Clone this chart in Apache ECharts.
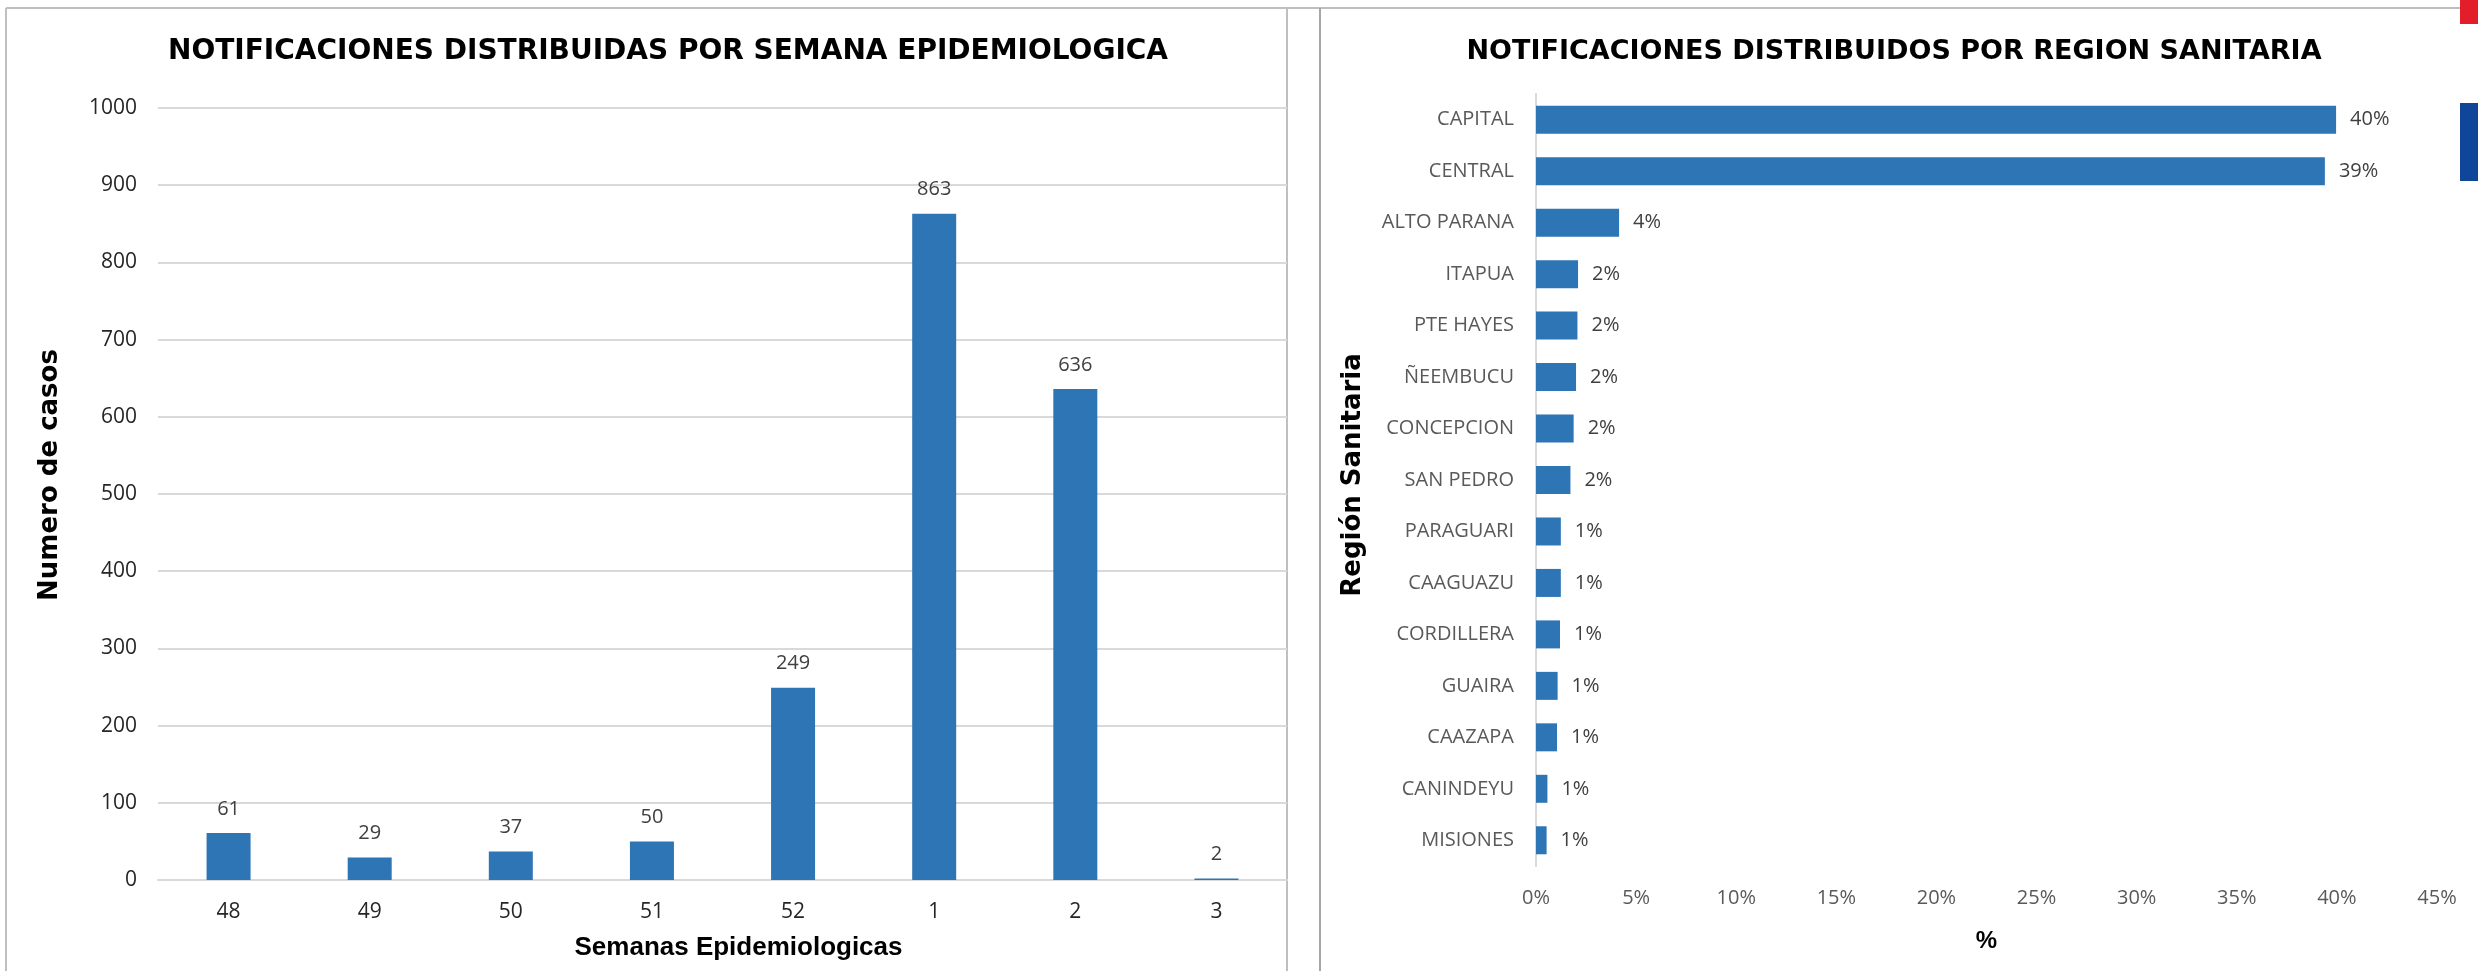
<!DOCTYPE html>
<html>
<head>
<meta charset="utf-8">
<script src="https://cdn.jsdelivr.net/npm/echarts@6/dist/echarts.min.js"></script>
<style>
html,body{margin:0;padding:0;background:#fff;}
#c{width:2478px;height:971px;}
</style>
</head>
<body>
<div id="c"></div>
<script>
// Left chart data
var weeks = ['48', '49', '50', '51', '52', '1', '2', '3'];
var weekCases = [61, 29, 37, 50, 249, 863, 636, 2];
var caseTicks = {min: 0, max: 1000, interval: 100};

// Right chart data
var regions = ['CAPITAL', 'CENTRAL', 'ALTO PARANA', 'ITAPUA', 'PTE HAYES', 'ÑEEMBUCU', 'CONCEPCION',
  'SAN PEDRO', 'PARAGUARI', 'CAAGUAZU', 'CORDILLERA', 'GUAIRA', 'CAAZAPA', 'CANINDEYU', 'MISIONES'];
var regionPct = [39.96, 39.4, 4.15, 2.1, 2.07, 2.0, 1.88, 1.72, 1.24, 1.24, 1.2, 1.08, 1.05, 0.57, 0.53];
var pctTicks = {min: 0, max: 45, interval: 5};

var BAR = '#2E75B6';
var tickFont = 'Open Sans';
var titleFont = 'DejaVu Sans';

var chart = echarts.init(document.getElementById('c'), null, {renderer: 'canvas'});
chart.setOption({
  animation: false,
  backgroundColor: '#ffffff',
  title: [
    {text: 'NOTIFICACIONES DISTRIBUIDAS POR SEMANA EPIDEMIOLOGICA', left: 663, top: 47, textAlign: 'center', textVerticalAlign: 'middle',
      textStyle: {fontFamily: titleFont, fontWeight: 'bold', fontSize: 28, color: '#000'}},
    {text: 'NOTIFICACIONES DISTRIBUIDOS POR REGION SANITARIA', left: 1889, top: 47, textAlign: 'center', textVerticalAlign: 'middle',
      textStyle: {fontFamily: titleFont, fontWeight: 'bold', fontSize: 27, color: '#000'}}
  ],
  grid: [
    {left: 158, right: 1191, top: 108, bottom: 91, containLabel: false},
    {left: 1536, right: 41, top: 94, bottom: 105, containLabel: false}
  ],
  xAxis: [
    {type: 'category', gridIndex: 0, data: weeks,
      axisLine: {show: true, lineStyle: {color: '#d9d9d9', width: 2}},
      axisTick: {show: false},
      axisLabel: {margin: 22, fontFamily: tickFont, fontSize: 21, color: '#262626'},
      name: 'Semanas Epidemiologicas', nameLocation: 'middle', nameGap: 55,
      nameTextStyle: {fontFamily: 'Liberation Sans', fontWeight: 'bold', fontSize: 26, color: '#000', padding: [0, 0, 0, 32]}},
    {type: 'value', gridIndex: 1, min: pctTicks.min, max: pctTicks.max, interval: pctTicks.interval,
      axisLine: {show: false}, axisTick: {show: false}, splitLine: {show: false},
      axisLabel: {margin: 22, fontFamily: tickFont, fontSize: 20, color: '#595959', formatter: '{value}%'},
      name: '%', nameLocation: 'middle', nameGap: 63,
      nameTextStyle: {fontFamily: 'Liberation Sans', fontWeight: 'bold', fontSize: 24, color: '#000'}}
  ],
  yAxis: [
    {type: 'value', gridIndex: 0, min: caseTicks.min, max: caseTicks.max, interval: caseTicks.interval,
      axisLine: {show: false}, axisTick: {show: false},
      splitLine: {show: true, lineStyle: {color: '#d9d9d9', width: 2}},
      axisLabel: {margin: 21, fontFamily: tickFont, fontSize: 21, color: '#262626',
        formatter: function (v) { return String(v); }},
      name: 'Numero de casos', nameLocation: 'middle', nameGap: 95,
      nameTextStyle: {fontFamily: titleFont, fontWeight: 'bold', fontSize: 26, color: '#000', padding: [0, 0, 0, 38]}},
    {type: 'category', gridIndex: 1, data: regions, inverse: true,
      axisLine: {show: true, lineStyle: {color: '#d9d9d9', width: 2}},
      axisTick: {show: false},
      axisLabel: {margin: 22, fontFamily: tickFont, fontSize: 20, color: '#595959'},
      name: 'Región Sanitaria', nameLocation: 'middle', nameGap: 170,
      nameTextStyle: {fontFamily: titleFont, fontWeight: 'bold', fontSize: 26, color: '#000', padding: [0, 0, 0, 10]}}
  ],
  series: [
    {type: 'bar', xAxisIndex: 0, yAxisIndex: 0, data: weekCases, barWidth: 44,
      itemStyle: {color: BAR},
      label: {show: true, position: 'top', distance: 14, fontFamily: tickFont, fontSize: 20, color: '#404040'}},
    {type: 'bar', xAxisIndex: 1, yAxisIndex: 1, data: regionPct, barWidth: 28,
      itemStyle: {color: BAR},
      label: {show: true, position: 'right', distance: 14, fontFamily: tickFont, fontSize: 20, color: '#404040',
        formatter: function (p) { return Math.round(p.value) + '%'; }}}
  ],
  graphic: [
    {type: 'line', shape: {x1: 6, y1: 8, x2: 2460, y2: 8}, style: {stroke: '#bfbfbf', lineWidth: 2}, silent: true},
    {type: 'line', shape: {x1: 6, y1: 8, x2: 6, y2: 971}, style: {stroke: '#bfbfbf', lineWidth: 2}, silent: true},
    {type: 'line', shape: {x1: 1287, y1: 8, x2: 1287, y2: 971}, style: {stroke: '#bfbfbf', lineWidth: 2}, silent: true},
    {type: 'line', shape: {x1: 1320, y1: 8, x2: 1320, y2: 971}, style: {stroke: '#a6a6a6', lineWidth: 2}, silent: true},
    {type: 'rect', shape: {x: 2460, y: 0, width: 18, height: 24}, style: {fill: '#e31e2a'}, silent: true},
    {type: 'rect', shape: {x: 2460, y: 103, width: 18, height: 78}, style: {fill: '#0f4699'}, silent: true}
  ]
});
</script>
</body>
</html>
